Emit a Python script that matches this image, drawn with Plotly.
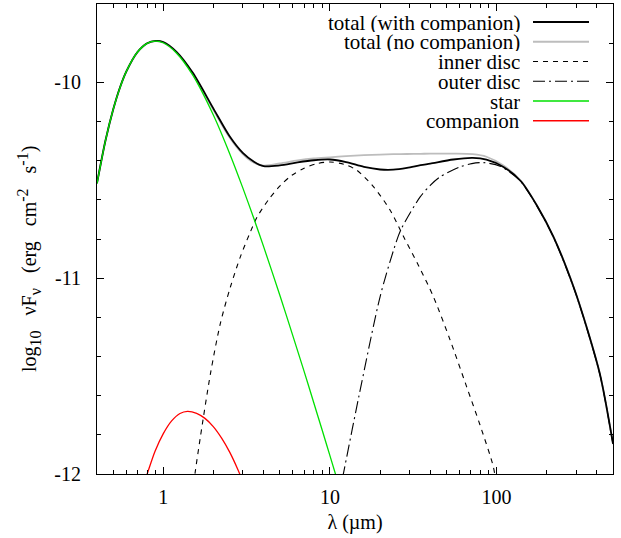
import plotly.graph_objects as go

# ---------------- data (wavelength in micron, log10 nuFnu) ----------------
lam_total = [0.40, 0.45, 0.50, 0.55, 0.60, 0.70, 0.80, 0.90, 1.0, 1.2, 1.5, 2.0, 2.5, 3.0,
             3.5, 4.0, 5.0, 6.4, 8.0, 10, 12.5, 16, 20, 24, 29, 35, 40, 55, 72, 87, 110,
             140, 175, 220, 290, 350, 420, 500]
total_with = [-10.515, -10.296, -10.139, -10.025, -9.944, -9.845, -9.800, -9.788, -9.794,
              -9.844, -9.950, -10.134, -10.275, -10.360, -10.405, -10.428, -10.424, -10.409,
              -10.398, -10.394, -10.407, -10.432, -10.445, -10.446, -10.437, -10.423,
              -10.415, -10.394, -10.386, -10.395, -10.432, -10.505, -10.630, -10.790,
              -11.045, -11.260, -11.500, -11.845]
total_no = [-10.517, -10.298, -10.141, -10.027, -9.946, -9.847, -9.802, -9.790, -9.798,
            -9.849, -9.958, -10.142, -10.282, -10.366, -10.410, -10.425, -10.414, -10.399,
            -10.389, -10.383, -10.377, -10.372, -10.369, -10.367, -10.366, -10.365,
            -10.364, -10.364, -10.367, -10.380, -10.425, -10.503, -10.630, -10.790,
            -11.045, -11.260, -11.500, -11.845]

lam_inner = [1.52, 1.56, 1.67, 1.92, 2.2, 2.53, 2.9, 3.33, 3.66, 4.3, 5.05, 5.9, 6.95, 8.35,
             10, 12.1, 14.5, 18.3, 23, 27.7, 34, 41.8, 52.6, 66.2, 79.6, 95.7, 99]
inner = [-12.05, -11.98, -11.81, -11.486, -11.231, -11.044, -10.891, -10.764, -10.687,
         -10.597, -10.526, -10.475, -10.440, -10.415, -10.407, -10.418, -10.449, -10.534,
         -10.653, -10.789, -10.935, -11.095, -11.315, -11.555, -11.750, -11.963, -12.04]

lam_outer = [11.9, 12.1, 14.9, 20.0, 24.1, 26.6, 34.8, 40.0, 45.8, 60.4, 71.0, 83.4, 105,
             126, 140, 175, 220, 290, 350, 420, 500]
outer = [-12.02, -11.99, -11.606, -11.095, -10.857, -10.755, -10.585, -10.526, -10.483,
         -10.432, -10.415, -10.410, -10.428, -10.472, -10.507, -10.632, -10.792, -11.047,
         -11.262, -11.502, -11.847]

lam_star = [0.40, 0.45, 0.50, 0.55, 0.60, 0.70, 0.80, 0.90, 1.0, 1.2, 1.5, 2.0, 2.5, 3.0,
            3.5, 4.0, 5.0, 6.0, 7.0, 8.0, 9.0, 10, 11]
star = [-10.517, -10.296, -10.139, -10.026, -9.944, -9.845, -9.801, -9.790, -9.798, -9.850,
        -9.962, -10.168, -10.363, -10.539, -10.697, -10.839, -11.086, -11.296, -11.476,
        -11.636, -11.778, -11.906, -12.023]

lam_comp = [0.776, 0.80, 0.891, 1.0, 1.122, 1.259, 1.396, 1.585, 1.778, 1.995, 2.239, 2.512,
            2.818, 2.951]
comp = [-12.03, -12.0, -11.885, -11.794, -11.729, -11.691, -11.68, -11.690, -11.716,
        -11.758, -11.817, -11.891, -11.982, -12.023]

legend_labels = ["total (with companion)", "total (no companion)", "inner disc",
                 "outer disc", "star", "companion"]

x_tickvals = [1, 10, 100]
x_ticktext = ["1", "10", "100"]
y_tickvals = [-12, -11, -10]
y_ticktext = ["-12", "-11", "-10"]

# ---------------- styles ----------------
FONT = "Liberation Serif, Times New Roman, Times, serif"
FS = 20
FS_KEY = 21
styles = {
    "total (with companion)": dict(color="black", width=1.8, dash="solid"),
    "total (no companion)": dict(color="#bdbdbd", width=1.8, dash="solid"),
    "inner disc": dict(color="black", width=1.1, dash="5px,5px"),
    "outer disc": dict(color="black", width=1.1, dash="12px,4px,2px,4px"),
    "star": dict(color="#00e000", width=1.3, dash="solid"),
    "companion": dict(color="#ff0000", width=1.3, dash="solid"),
}

fig = go.Figure()
series = [
    ("total (no companion)", lam_total, total_no),
    ("total (with companion)", lam_total, total_with),
    ("inner disc", lam_inner, inner),
    ("outer disc", lam_outer, outer),
    ("star", lam_star, star),
    ("companion", lam_comp, comp),
]
for name, xs, ys in series:
    st = styles[name]
    fig.add_trace(go.Scatter(
        x=xs, y=ys, mode="lines", name=name, showlegend=False,
        line=dict(color=st["color"], width=st["width"], dash=st["dash"],
                  shape="spline", smoothing=0.8),
        hoverinfo="x+y+name",
    ))

# manual gnuplot-style key: text right-aligned, sample to the right
L, R, T, B = 97, 8, 4, 64
W, H = 621, 538
pw, ph = W - L - R, H - T - B


def px2paper_x(px):
    return (px - L) / pw


def px2paper_y(py):
    return (H - B - py) / ph


annotations = []
shapes = []
row0, drow = 22.0, 19.75
for i, name in enumerate(legend_labels):
    yc = row0 + i * drow
    annotations.append(dict(
        x=px2paper_x(521), y=px2paper_y(yc), xref="paper", yref="paper",
        text=name, showarrow=False, xanchor="right", yanchor="middle",
        height=19, valign="middle", borderpad=0,
        font=dict(family=FONT, size=FS_KEY, color="black")))
    st = styles[name]
    shapes.append(dict(
        type="line", xref="paper", yref="paper",
        x0=px2paper_x(533), x1=px2paper_x(589),
        y0=px2paper_y(yc), y1=px2paper_y(yc),
        line=dict(color=st["color"], width=st["width"], dash=st["dash"])))

SP = "&nbsp;"
sub_style = "font-size:16px"
ytitle = ("log<sub><span style='%s'>10</span></sub>%sνF<sub><span style='%s'>ν</span></sub>"
          "%s(erg%scm<sup><span style='%s'>-2</span></sup>%ss<sup><span style='%s'>-1</span></sup>)"
          % (sub_style, SP * 3, sub_style, SP * 3, SP * 3, sub_style, SP * 3, sub_style))
annotations.append(dict(
    x=px2paper_x(29), y=px2paper_y(259), xref="paper", yref="paper",
    text=ytitle, showarrow=False, textangle=-90, xanchor="center", yanchor="middle",
    font=dict(family=FONT, size=FS, color="black")))

fig.update_layout(
    width=W, height=H,
    margin=dict(l=L, r=R, t=T, b=B, pad=0, autoexpand=False),
    paper_bgcolor="white", plot_bgcolor="white",
    font=dict(family=FONT, size=FS, color="black"),
    showlegend=False,
    annotations=annotations, shapes=shapes,
)

fig.update_xaxes(
    type="log", range=[-0.39794, 2.69897],
    tickvals=x_tickvals, ticktext=x_ticktext,
    ticks="inside", ticklen=7, tickwidth=1, tickcolor="black",
    showline=True, linecolor="black", linewidth=1.2, mirror="ticks",
    showgrid=False, zeroline=False, automargin=False,
    minor=dict(ticks="inside", ticklen=4, tickwidth=1, tickcolor="black",
               dtick="D1", showgrid=False),
    tickfont=dict(family=FONT, size=FS, color="black"),
    ticklabelstandoff=5,
    title=dict(text="λ (µm)", font=dict(family=FONT, size=FS, color="black"), standoff=7),
)
fig.update_yaxes(
    range=[-12, -9.6],
    tickvals=y_tickvals, ticktext=y_ticktext,
    ticks="inside", ticklen=7, tickwidth=1, tickcolor="black",
    showline=True, linecolor="black", linewidth=1.2, mirror="ticks",
    showgrid=False, zeroline=False, automargin=False,
    minor=dict(ticks="inside", ticklen=4, tickwidth=1, tickcolor="black",
               dtick=0.2, showgrid=False),
    tickfont=dict(family=FONT, size=FS, color="black"),
    ticklabelstandoff=11,
)

fig.write_html("out.html", config={"displayModeBar": False},
               post_script="document.body.style.margin='0';document.body.style.overflow='hidden';")
